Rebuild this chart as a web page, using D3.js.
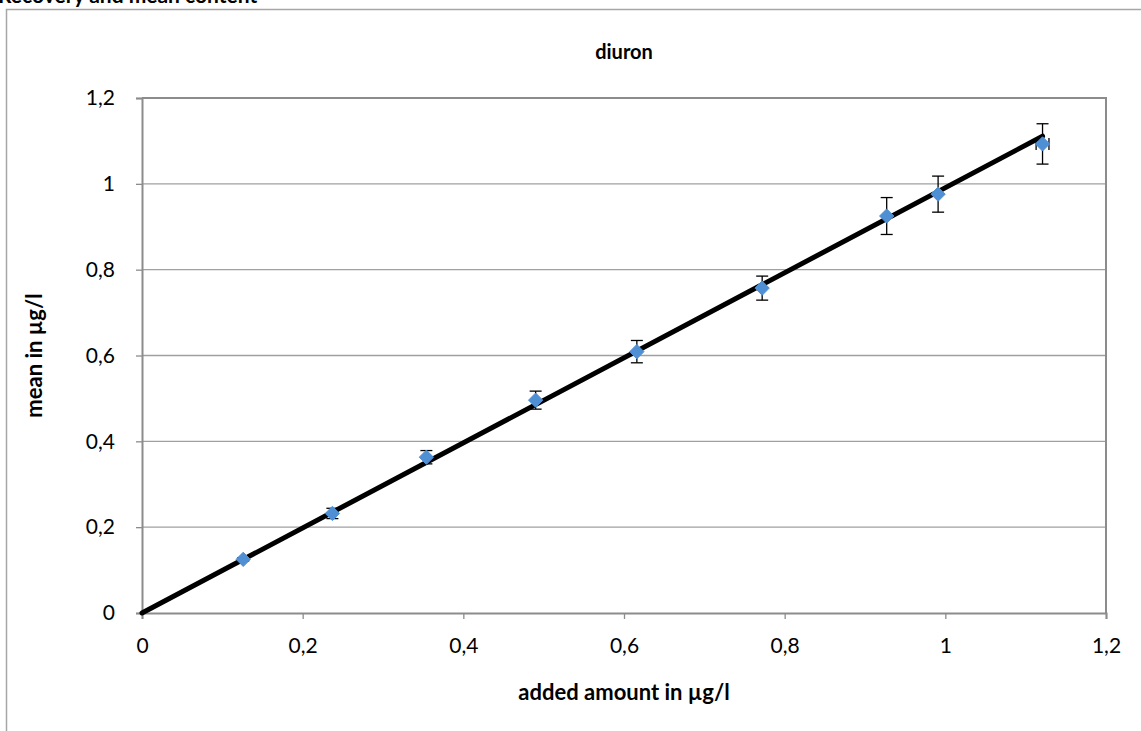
<!DOCTYPE html>
<html><head><meta charset="utf-8">
<script src="https://cdn.jsdelivr.net/npm/d3@7"></script>
<style>body{margin:0;background:#fff}svg{display:block;font-family:Lato,"Open Sans",sans-serif}</style>
</head><body><svg id="c" width="1141" height="731"></svg>
<script>
const addedAmount = [0.126, 0.237, 0.354, 0.490, 0.616, 0.772, 0.927, 0.991, 1.121];
const meanValue   = [0.125, 0.232, 0.363, 0.496, 0.609, 0.757, 0.925, 0.976, 1.093];
const yError      = [0.004, 0.012, 0.0155, 0.021, 0.026, 0.028, 0.043, 0.042, 0.047];
const xError      = [0, 0, 0, 0, 0, 0, 0, 0, 0.008];
const trendSlope = 0.991;
const trendX = [0, 1.121];
const tickValues = [0, 0.2, 0.4, 0.6, 0.8, 1, 1.2];
const tickLabels = ["0", "0,2", "0,4", "0,6", "0,8", "1", "1,2"];
const chartTitle = "diuron";
const xTitle = "added amount in µg/l";
const yTitle = "mean in µg/l";
const headerText = "Recovery and mean content";

const svg = d3.select("#c");
const L = 142, R = 1106, T = 98, B = 613;
const x = d3.scaleLinear().domain([0, 1.2]).range([L, R]);
const y = d3.scaleLinear().domain([0, 1.2]).range([B, T]);
const fmt = d => tickLabels[tickValues.indexOf(d)] || "";

// cropped header text & outer frame
svg.append("text").attr("x", -2).attr("y", 3).attr("font-weight", "bold").attr("font-size", 21).text(headerText);
svg.append("path").attr("d", `M6.5,${731}V9.5H1141`).attr("fill", "none").attr("stroke", "#a6a6a6").attr("stroke-width", 1.5);

// gridlines
svg.append("g").selectAll("line").data(tickValues.filter(v => v > 0 && v < 1.2)).join("line")
  .attr("x1", L).attr("x2", R).attr("y1", d => y(d)).attr("y2", d => y(d))
  .attr("stroke", "#a0a0a0").attr("stroke-width", 1.3);

// plot border top/right
svg.append("path").attr("d", `M${L},${T}H${R}V${B}`).attr("fill", "none").attr("stroke", "#8c8c8c").attr("stroke-width", 2);

// axes
const xa = svg.append("g").attr("transform", `translate(0,${B})`)
  .call(d3.axisBottom(x).tickValues(tickValues).tickFormat(fmt).tickSize(6).tickPadding(19));
const ya = svg.append("g").attr("transform", `translate(${L},0)`)
  .call(d3.axisLeft(y).tickValues(tickValues).tickFormat(fmt).tickSize(6).tickPadding(21));
[xa, ya].forEach(g => {
  g.select(".domain").attr("stroke", "#8c8c8c").attr("stroke-width", 2);
  g.selectAll(".tick line").attr("stroke", "#8c8c8c").attr("stroke-width", 1.3);
  g.selectAll("text").attr("font-size", 21).attr("fill", "#000").attr("font-family", "Lato, 'Open Sans', sans-serif");
});

// trendline
svg.append("line").attr("x1", x(trendX[0])).attr("y1", y(trendX[0] * trendSlope))
  .attr("x2", x(trendX[1])).attr("y2", y(trendX[1] * trendSlope))
  .attr("stroke", "#000").attr("stroke-width", 5).attr("stroke-linecap", "round");

// error bars
const pts = addedAmount.map((v, i) => ({x: v, y: meanValue[i], ey: yError[i], ex: xError[i]}));
const eb = svg.append("g").attr("stroke", "#000").attr("stroke-width", 1.3);
pts.forEach(p => {
  const cx = x(p.x), cy = y(p.y);
  const y1 = y(p.y + p.ey), y2 = y(p.y - p.ey);
  eb.append("line").attr("x1", cx).attr("x2", cx).attr("y1", y1).attr("y2", y2);
  eb.append("line").attr("x1", cx - 6).attr("x2", cx + 6).attr("y1", y1).attr("y2", y1);
  eb.append("line").attr("x1", cx - 6).attr("x2", cx + 6).attr("y1", y2).attr("y2", y2);
  if (p.ex > 0) {
    const x1 = x(p.x - p.ex), x2 = x(p.x + p.ex);
    eb.append("line").attr("x1", x1).attr("x2", x2).attr("y1", cy).attr("y2", cy);
    eb.append("line").attr("x1", x1).attr("x2", x1).attr("y1", cy - 6).attr("y2", cy + 6);
    eb.append("line").attr("x1", x2).attr("x2", x2).attr("y1", cy - 6).attr("y2", cy + 6);
  }
});

// markers
svg.append("g").selectAll("path").data(pts).join("path")
  .attr("d", d3.symbol(d3.symbolDiamond2, 130))
  .attr("transform", d => `translate(${x(d.x)},${y(d.y)})`)
  .attr("fill", "#4f8fd3").attr("stroke", "#4f8fd3").attr("stroke-width", 1);

// titles
svg.append("text").attr("x", (L + R) / 2).attr("y", 59).attr("text-anchor", "middle")
  .attr("font-weight", "bold").attr("font-size", 20).text(chartTitle);
svg.append("text").attr("x", (L + R) / 2).attr("y", 700).attr("text-anchor", "middle")
  .attr("font-weight", "bold").attr("font-size", 22).text(xTitle);
svg.append("text").attr("transform", `translate(42,${(T + B) / 2}) rotate(-90)`).attr("text-anchor", "middle")
  .attr("font-weight", "bold").attr("font-size", 22).text(yTitle);
</script></body></html>
